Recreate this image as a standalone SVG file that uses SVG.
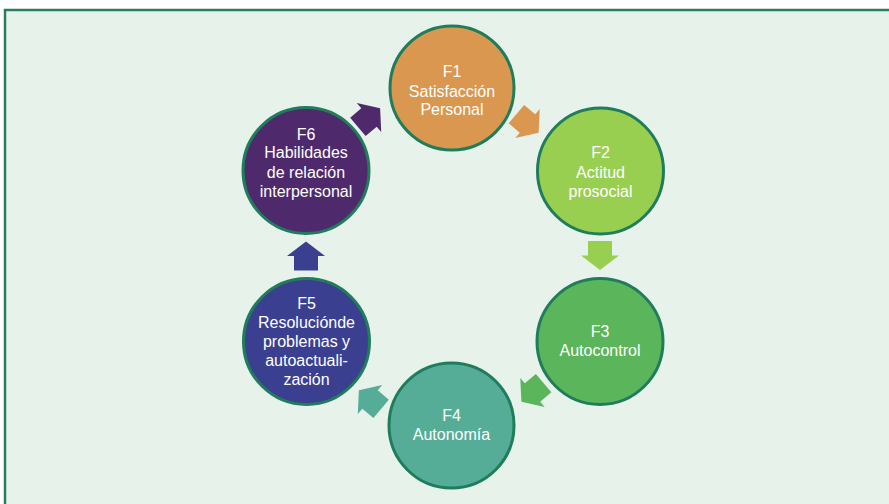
<svg xmlns="http://www.w3.org/2000/svg" width="889" height="504" viewBox="0 0 889 504">
  <defs>
    <style>
      .node { stroke: #1f7d5c; stroke-width: 3; }
      .lbl { font-family: "Liberation Sans", Arial, sans-serif; font-size: 16px; fill: #ffffff; text-anchor: middle; }
    </style>
    <polygon id="arr" points="-14.5,-12 0,-12 0,-19 14.5,0 0,19 0,12 -14.5,12"/>
  </defs>
  <rect x="0" y="0" width="889" height="504" fill="#ffffff"/>
  <rect x="5" y="10" width="900" height="520" fill="#e6f2ea" stroke="#2a7d62" stroke-width="2.5"/>

  <g id="connectors">
    <use href="#arr" fill="#d9974f" transform="translate(527.5,123.5) rotate(40)"/>
    <use href="#arr" fill="#99cf50" transform="translate(600,255.5) rotate(90)"/>
    <use href="#arr" fill="#5bb55a" transform="translate(532.5,392.5) rotate(140)"/>
    <use href="#arr" fill="#56ad97" transform="translate(370,399.5) rotate(220)"/>
    <use href="#arr" fill="#3b3f8f" transform="translate(306,256) rotate(-90)"/>
    <use href="#arr" fill="#4e2a6c" transform="translate(369,117.5) rotate(-40)"/>
  </g>

  <g id="F1">
    <circle class="node" cx="452" cy="88" r="62" fill="#d9974f"/>
    <text class="lbl" x="452" y="77">F1</text>
    <text class="lbl" x="452" y="96.5">Satisfacción</text>
    <text class="lbl" x="452" y="114.5">Personal</text>
  </g>
  <g id="F2">
    <circle class="node" cx="600.5" cy="171" r="63" fill="#99cf50"/>
    <text class="lbl" x="600.5" y="158">F2</text>
    <text class="lbl" x="600.5" y="177.5">Actitud</text>
    <text class="lbl" x="600.5" y="196.5">prosocial</text>
  </g>
  <g id="F3">
    <circle class="node" cx="600" cy="341.5" r="63" fill="#5bb55a"/>
    <text class="lbl" x="600" y="337">F3</text>
    <text class="lbl" x="600" y="356">Autocontrol</text>
  </g>
  <g id="F4">
    <circle class="node" cx="451.5" cy="425.5" r="62.5" fill="#56ad97"/>
    <text class="lbl" x="451.5" y="421">F4</text>
    <text class="lbl" x="451.5" y="440">Autonomía</text>
  </g>
  <g id="F5">
    <circle class="node" cx="306.5" cy="341.5" r="63" fill="#3b3f8f"/>
    <text class="lbl" x="306.5" y="309">F5</text>
    <text class="lbl" x="306.5" y="328">Resoluciónde</text>
    <text class="lbl" x="306.5" y="347">problemas y</text>
    <text class="lbl" x="306.5" y="366">autoactuali-</text>
    <text class="lbl" x="306.5" y="384.5">zación</text>
  </g>
  <g id="F6">
    <circle class="node" cx="306" cy="170.5" r="63" fill="#4e2a6c"/>
    <text class="lbl" x="306" y="139.5">F6</text>
    <text class="lbl" x="306" y="158">Habilidades</text>
    <text class="lbl" x="306" y="177.5">de relación</text>
    <text class="lbl" x="306" y="196.5">interpersonal</text>
  </g>
</svg>
